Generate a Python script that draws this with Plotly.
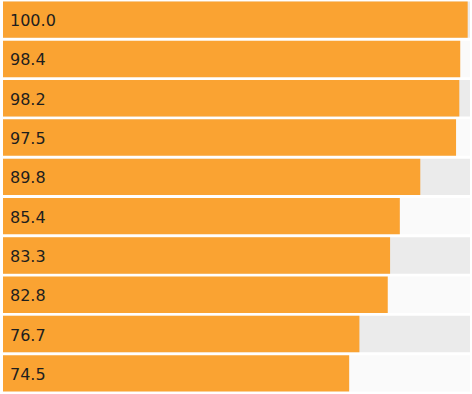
import plotly.graph_objects as go

values = [100.0, 98.4, 98.2, 97.5, 89.8, 85.4, 83.3, 82.8, 76.7, 74.5]
labels = [f"{v:.1f}" for v in values]
categories = [f"r{i}" for i in range(len(values))]
track_max = 100.5
stripe_colors = ["#ebebeb" if i % 2 == 0 else "#fafafa" for i in range(len(values))]

fig = go.Figure()
fig.add_trace(go.Bar(
    y=categories, x=[track_max] * len(values), orientation="h",
    marker=dict(color=stripe_colors, line=dict(width=0)),
    hoverinfo="skip", showlegend=False,
))
fig.add_trace(go.Bar(
    y=categories, x=values, orientation="h",
    marker=dict(color="#faa332", line=dict(width=0)),
    showlegend=False,
))
for c, t in zip(categories, labels):
    fig.add_annotation(x=0, y=c, text=t, xanchor="left", xshift=5, yshift=-1, showarrow=False,
                       font=dict(family="DejaVu Sans", size=16, color="#1e1e1e"))

fig.update_layout(
    width=472, height=394,
    margin=dict(l=3, r=2, t=0, b=1),
    barmode="overlay", bargap=0.075,
    plot_bgcolor="white", paper_bgcolor="white",
    xaxis=dict(range=[0, track_max], visible=False, fixedrange=True),
    yaxis=dict(autorange="reversed", visible=False, categoryorder="array", categoryarray=categories),
)
fig.write_html("out.html", config={"displayModeBar": False},
               post_script="document.body.style.margin='0';document.body.style.overflow='hidden';")
